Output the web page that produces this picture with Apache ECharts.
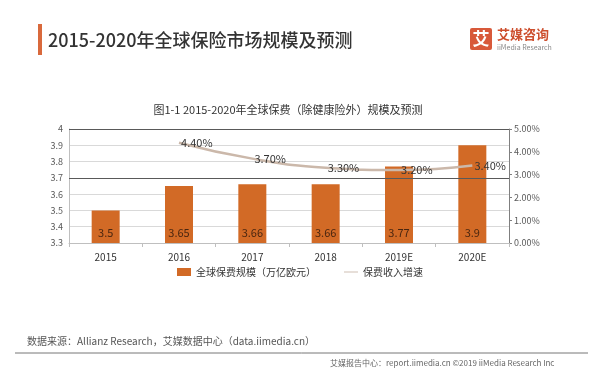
<!DOCTYPE html>
<html>
<head>
<meta charset="utf-8">
<script src="https://cdn.jsdelivr.net/npm/echarts@6/dist/echarts.min.js"></script>
<style>
  html, body { margin: 0; padding: 0; background: #fff; }
  #chart { width: 600px; height: 376px; }
</style>
</head>
<body>
<div id="chart"></div>
<script>
const years = ['2015', '2016', '2017', '2018', '2019E', '2020E']
const premiumScale = [3.5, 3.65, 3.66, 3.66, 3.77, 3.9]
const premiumGrowth = [null, 4.4, 3.7, 3.3, 3.2, 3.4]

const FONT = '"Noto Sans CJK SC", "Noto Sans", sans-serif'

const chart = echarts.init(document.getElementById('chart'))

chart.setOption({
  backgroundColor: '#fff',
  textStyle: { fontFamily: FONT },
  graphic: [
    // header
    { type: 'rect', shape: { x: 38, y: 24, width: 4, height: 31 }, style: { fill: '#d9693c' } },
    { type: 'text', x: 48, y: 40, style: { text: '2015-2020年全球保险市场规模及预测', font: '500 18px ' + FONT, fill: '#333', verticalAlign: 'middle' } },
    // logo
    { type: 'rect', shape: { x: 470, y: 28, width: 22, height: 22, r: 2 }, style: { fill: '#d8593a' } },
    { type: 'text', x: 481, y: 39, style: { text: '艾', font: 'bold 17px ' + FONT, fill: '#fff', align: 'center', verticalAlign: 'middle' } },
    { type: 'text', x: 497, y: 34, style: { text: '艾媒咨询', font: 'bold 13px ' + FONT, fill: '#cd4f2e', verticalAlign: 'middle' } },
    { type: 'text', x: 497, y: 47, style: { text: 'iiMedia Research', font: '7px ' + FONT, fill: '#8a8a8a', verticalAlign: 'middle' } },
    // chart caption
    { type: 'text', x: 288, y: 110, style: { text: '图1-1 2015-2020年全球保费（除健康险外）规模及预测', font: '11px ' + FONT, fill: '#333', align: 'center', verticalAlign: 'middle' } },
    // footer
    { type: 'text', x: 27, y: 341, style: { text: '数据来源：Allianz Research，艾媒数据中心（data.iimedia.cn）', font: '10px ' + FONT, fill: '#555', verticalAlign: 'middle' } },
    { type: 'line', shape: { x1: 15, y1: 353, x2: 588, y2: 353 }, style: { stroke: '#777', lineWidth: 1 } },
    { type: 'text', x: 330, y: 363, style: { text: '艾媒报告中心：report.iimedia.cn ©2019 iiMedia Research Inc', font: '8px ' + FONT, fill: '#666', verticalAlign: 'middle' } }
  ],
  grid: { left: 69, right: 91, top: 129, bottom: 133 },
  legend: {
    bottom: 94,
    left: 'center',
    itemGap: 28,
    itemWidth: 14,
    itemHeight: 8,
    textStyle: { fontSize: 10, color: '#333' },
    data: [
      { name: '全球保费规模（万亿欧元）', icon: 'rect' },
      { name: '保费收入增速', icon: 'path://M0,3.5H16V4.5H0Z' }
    ]
  },
  xAxis: {
    type: 'category',
    data: years,
    axisLine: { lineStyle: { color: '#bfbfbf' } },
    axisTick: { show: true, length: 4, lineStyle: { color: '#bfbfbf' } },
    axisLabel: { color: '#333', fontSize: 10, margin: 9 }
  },
  yAxis: [
    {
      type: 'value',
      min: 3.3,
      max: 4,
      interval: 0.1,
      axisLine: { show: true, lineStyle: { color: '#bfbfbf' } },
      axisTick: { show: false },
      axisLabel: { color: '#595959', fontSize: 9, margin: 6, formatter: v => String(+v.toFixed(1)) },
      splitLine: { lineStyle: { color: '#d9d9d9' } }
    },
    {
      type: 'value',
      min: 0,
      max: 5,
      interval: 1,
      axisLine: { show: true, lineStyle: { color: '#7f7f7f' } },
      axisTick: { show: true, length: 3, lineStyle: { color: '#7f7f7f' } },
      axisLabel: { color: '#595959', fontSize: 9, margin: 5, formatter: v => v.toFixed(2) + '%' },
      splitLine: { show: false }
    }
  ],
  series: [
    {
      name: '全球保费规模（万亿欧元）',
      type: 'bar',
      data: premiumScale,
      barWidth: 28,
      itemStyle: { color: '#d26a26' },
      label: {
        show: true,
        position: 'insideBottom',
        distance: 5,
        color: '#4a2610',
        fontSize: 11
      },
      markLine: {
        silent: true,
        symbol: 'none',
        label: { show: false },
        lineStyle: { color: '#595959', type: 'solid', width: 1 },
        data: [{ yAxis: 4 }, { yAxis: 3.7 }]
      },
      z: 2
    },
    {
      name: '保费收入增速',
      type: 'line',
      yAxisIndex: 1,
      data: premiumGrowth,
      smooth: true,
      showSymbol: true,
      symbol: 'circle',
      symbolSize: 0.1,
      itemStyle: { color: '#c9b6a8' },
      lineStyle: { color: '#cbb8aa', width: 2.5 },
      label: {
        show: true,
        position: 'right',
        distance: 2,
        color: '#333',
        fontSize: 11,
        formatter: p => p.value.toFixed(2) + '%'
      },
      z: 3
    }
  ]
})
</script>
</body>
</html>
